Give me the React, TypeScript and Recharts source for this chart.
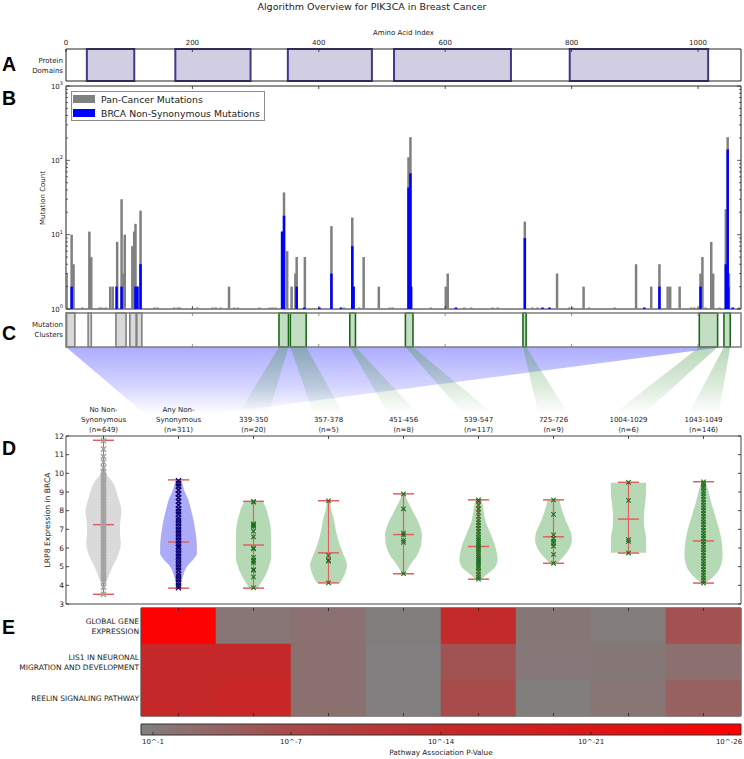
import {
  ComposedChart, BarChart, Bar, Area, Scatter, XAxis, YAxis,
  ReferenceArea, ReferenceLine, Legend, Cell,
} from 'recharts'

const W = 744
const H = 759
const FONT = "'DejaVu Sans', 'Liberation Sans', sans-serif"
const INK = '#222'

// ── Panels A–C: amino-acid coordinates ─────────────────────────────────────
const AA_LENGTH = 1068
const AA_TICKS = [0, 200, 400, 600, 800, 1000]
const AA_INNER_TICKS = [200, 400, 600, 800, 1000]

const DOMAIN_START = [33, 173, 351, 519, 797]
const DOMAIN_END = [108, 292, 484, 704, 1016]

const SERIES_NAMES = ['Pan-Cancer Mutations', 'BRCA Non-Synonymous Mutations']
// [amino acid, mutation count]
const PAN_MUTATIONS: [number, number][] = [
  [1, 3], [9, 10], [12, 4], [26, 1], [37, 11], [40, 5], [53, 1], [57, 1], [63, 1], [70, 2], [74, 2],
  [81, 8], [88, 30], [91, 3], [93, 10], [105, 7], [108, 11], [110, 14], [113, 2], [118, 21],
  [140, 1], [145, 1], [171, 1], [177, 1], [180, 1], [208, 1], [232, 1], [237, 1], [245, 1], [258, 2],
  [266, 1], [272, 1], [306, 1], [322, 1], [327, 1], [332, 1], [342, 11], [345, 37], [350, 6], [357, 2],
  [363, 3], [365, 5], [378, 5], [420, 13], [440, 1], [453, 17], [455, 2], [464, 1], [471, 5], [495, 2],
  [512, 1], [517, 1], [542, 110], [545, 205], [546, 2], [577, 1], [601, 2], [604, 3], [630, 1], [641, 1],
  [675, 1], [683, 1], [726, 15], [738, 1], [746, 1], [777, 3], [796, 1], [802, 1], [819, 2], [828, 1],
  [868, 1], [902, 4], [926, 2], [939, 4], [952, 2], [956, 2], [971, 2], [989, 1], [994, 1], [1004, 3],
  [1007, 5], [1012, 1], [1021, 8], [1024, 3], [1034, 1], [1044, 22], [1047, 205], [1049, 3], [1065, 1],
]
const BRCA_MUTATIONS: [number, number][] = [
  [9, 2], [80, 2], [88, 2], [110, 2], [113, 2], [118, 4], [342, 11], [345, 18], [365, 2], [377, 1],
  [401, 1], [420, 3], [435, 1], [453, 7], [455, 2], [542, 43], [545, 67], [546, 2], [617, 1], [726, 9],
  [754, 1], [765, 1], [915, 1], [939, 2], [1004, 2], [1044, 4], [1047, 140], [1048, 2], [1055, 1],
]
const LOG_TICKS = [1, 2, 3, 4, 5, 6, 7, 8, 9, 10, 20, 30, 40, 50, 60, 70, 80, 90, 100, 200, 300, 400, 500, 600, 700, 800, 900, 1000]

const GRAY_CLUSTERS = [[1, 14], [35, 40], [79, 95], [101, 111], [112, 120]]
const GREEN_CLUSTERS = [[339, 350], [357, 378], [451, 456], [539, 547], [725, 726], [1004, 1029], [1043, 1049]]
const ANY_NONSYN_SPAN = [0, 1040]

// ── Panel D: expression violins ────────────────────────────────────────────
const GROUP_LABELS = [
  ['No Non-', 'Synonymous', '(n=649)'],
  ['Any Non-', 'Synonymous', '(n=311)'],
  ['339-350', '(n=20)'],
  ['357-378', '(n=5)'],
  ['451-456', '(n=8)'],
  ['539-547', '(n=117)'],
  ['725-726', '(n=9)'],
  ['1004-1029', '(n=6)'],
  ['1043-1049', '(n=146)'],
]
const EXPR_TICKS = [3, 4, 5, 6, 7, 8, 9, 10, 11, 12]

// [expression level, half width of the violin in slot units]
const VIOLIN_DENSITY: [number, number][][] = [
  [[10.5, 0], [10.2, 0.02], [9.9, 0.05], [9.6, 0.11], [9.2, 0.16], [8.8, 0.19], [8.4, 0.22], [8.0, 0.24], [7.6, 0.23], [7.2, 0.22], [6.8, 0.22], [6.3, 0.23], [5.8, 0.21], [5.4, 0.17], [5.0, 0.12], [4.6, 0.08], [4.2, 0.04], [3.8, 0.015], [3.5, 0.005]],
  [[9.68, 0.02], [9.5, 0.045], [9.1, 0.075], [8.6, 0.13], [8.0, 0.17], [7.5, 0.2], [7.0, 0.22], [6.6, 0.235], [6.1, 0.245], [5.7, 0.245], [5.4, 0.2], [5.0, 0.11], [4.5, 0.06], [4.05, 0.025], [3.85, 0.015]],
  [[8.5, 0.12], [8.2, 0.16], [7.8, 0.19], [7.2, 0.225], [6.5, 0.235], [5.5, 0.235], [5.0, 0.205], [4.5, 0.155], [4.1, 0.095], [3.85, 0.055]],
  [[8.55, 0.02], [8.0, 0.04], [7.5, 0.075], [7.0, 0.095], [6.5, 0.125], [6.0, 0.165], [5.5, 0.215], [5.1, 0.245], [4.7, 0.225], [4.4, 0.195], [4.15, 0.16]],
  [[8.9, 0.02], [8.5, 0.055], [8.2, 0.095], [7.8, 0.145], [7.5, 0.185], [7.1, 0.225], [6.7, 0.245], [6.3, 0.24], [5.9, 0.215], [5.5, 0.165], [5.2, 0.105], [4.9, 0.06], [4.62, 0.02]],
  [[8.6, 0.04], [8.2, 0.06], [7.8, 0.075], [7.4, 0.095], [7.0, 0.135], [6.6, 0.175], [6.2, 0.215], [5.8, 0.24], [5.4, 0.255], [5.0, 0.225], [4.7, 0.145], [4.35, 0.04]],
  [[8.6, 0.08], [8.3, 0.095], [7.9, 0.125], [7.5, 0.16], [7.1, 0.205], [6.7, 0.24], [6.4, 0.245], [6.1, 0.225], [5.8, 0.185], [5.5, 0.125], [5.2, 0.055]],
  [[9.5, 0.235], [9.0, 0.235], [8.5, 0.225], [8.0, 0.21], [7.5, 0.205], [7.0, 0.215], [6.5, 0.235], [6.0, 0.235], [5.75, 0.235]],
  [[9.55, 0.025], [9.2, 0.055], [8.8, 0.08], [8.4, 0.105], [8.0, 0.135], [7.6, 0.165], [7.2, 0.195], [6.8, 0.22], [6.4, 0.24], [6.0, 0.25], [5.6, 0.255], [5.2, 0.24], [4.8, 0.2], [4.5, 0.14], [4.15, 0.04]],
]
const VIOLIN_MIN = [3.52, 3.85, 3.85, 4.13, 4.62, 4.33, 5.18, 5.73, 4.12]
const VIOLIN_MAX = [11.77, 9.65, 8.5, 8.53, 8.9, 8.58, 8.58, 9.52, 9.55]
const VIOLIN_MEDIAN = [7.25, 6.32, 6.16, 5.74, 6.72, 6.08, 6.6, 7.55, 6.38]
const VIOLIN_POINTS = [
  [3.52, 3.9, 4.2, 4.35, 4.5, 4.65, 4.8, 4.95, 5.1, 5.25, 5.4, 5.55, 5.7, 5.85, 6.0, 6.15, 6.3, 6.45, 6.6, 6.75, 6.9, 7.05, 7.2, 7.35, 7.5, 7.65, 7.8, 7.95, 8.1, 8.25, 8.4, 8.55, 8.7, 8.85, 9.0, 9.15, 9.3, 9.45, 9.6, 9.75, 9.9, 10.05, 10.3, 10.6, 10.9, 11.3, 11.75],
  [3.87, 4.0, 4.15, 4.3, 4.45, 4.6, 4.8, 4.95, 5.1, 5.25, 5.4, 5.55, 5.7, 5.85, 6.0, 6.1, 6.25, 6.4, 6.55, 6.7, 6.85, 7.0, 7.15, 7.3, 7.45, 7.6, 7.8, 7.95, 8.1, 8.3, 8.5, 8.7, 8.9, 9.1, 9.3, 9.45, 9.6],
  [8.5, 8.45, 7.3, 7.25, 7.2, 7.15, 6.9, 6.6, 6.0, 5.95, 5.5, 5.35, 5.3, 5.2, 4.85, 4.8, 4.45, 3.87],
  [8.53, 5.6, 5.35, 5.3, 4.13],
  [8.9, 8.1, 6.8, 6.7, 6.4, 6.3, 4.62],
  [8.58, 8.5, 8.3, 8.1, 7.9, 7.7, 7.5, 7.35, 7.2, 7.05, 6.9, 6.75, 6.6, 6.5, 6.4, 6.3, 6.2, 6.1, 6.0, 5.9, 5.8, 5.7, 5.6, 5.5, 5.4, 5.3, 5.2, 5.1, 5.0, 4.9, 4.75, 4.6, 4.45, 4.33],
  [8.58, 7.8, 6.7, 6.5, 6.35, 6.25, 6.1, 5.65, 5.18],
  [9.52, 8.55, 6.45, 6.35, 5.73],
  [9.55, 9.45, 9.3, 9.2, 9.05, 8.9, 8.75, 8.6, 8.45, 8.3, 8.15, 8.0, 7.85, 7.7, 7.55, 7.4, 7.25, 7.1, 6.95, 6.8, 6.65, 6.5, 6.35, 6.2, 6.05, 5.9, 5.75, 5.6, 5.45, 5.3, 5.15, 5.0, 4.85, 4.7, 4.55, 4.4, 4.25, 4.12],
]

// ── Panel E: pathway association heatmap ───────────────────────────────────
const PATHWAYS = [['GLOBAL GENE', 'EXPRESSION'], ['LIS1 IN NEURONAL', 'MIGRATION AND DEVELOPMENT'], ['REELIN SIGNALING PATHWAY']]
// -log10(p) per pathway, columns = Any Non-Synonymous … 1043-1049
const PATHWAY_NEG_LOG_P = [
  [26, 1.7, 2.2, 0.8, 13.5, 1.5, 1.0, 6.0],
  [14, 14, 2.3, 0.6, 5.8, 1.4, 1.5, 2.4],
  [14, 14.5, 2.3, 0.6, 6.7, 0.7, 1.7, 4.1],
]
const P_EXP_MIN = 0.5
const P_EXP_MAX = 26.5
const CBAR_TICK_POS = [0.02, 0.25, 0.5, 0.75, 0.98]
const CBAR_TICK_LABELS = ['10^-1', '10^-7', '10^-14', '10^-21', '10^-26']
const CMAP_STOPS = [0, 0.25, 0.5, 0.75, 1]
const CMAP_COLORS = ['#808080', '#a94848', '#c32a2a', '#dc1616', '#ff0000']

// ── helpers ────────────────────────────────────────────────────────────────
const hexToRgb = (h: string) => {
  const n = parseInt(h.slice(1), 16)
  return [(n >> 16) & 255, (n >> 8) & 255, n & 255]
}
function colorAt(t: number) {
  const c = Math.min(1, Math.max(0, t))
  let i = 0
  while (i < CMAP_STOPS.length - 2 && c > CMAP_STOPS[i + 1]) i++
  const f = (c - CMAP_STOPS[i]) / (CMAP_STOPS[i + 1] - CMAP_STOPS[i])
  const a = hexToRgb(CMAP_COLORS[i])
  const b = hexToRgb(CMAP_COLORS[i + 1])
  return `rgb(${a.map((v, k) => Math.round(v + (b[k] - v) * f)).join(',')})`
}
const expToT = (e: number) => (e - P_EXP_MIN) / (P_EXP_MAX - P_EXP_MIN)
const slotToAa = (s: number) => ((s - 0.5) / GROUP_LABELS.length) * AA_LENGTH

const mutPositions = Array.from(new Set([...PAN_MUTATIONS.map(m => m[0]), ...BRCA_MUTATIONS.map(m => m[0])])).sort((a, b) => a - b)
const mutRows = mutPositions.map(aa => ({
  aa,
  pan: PAN_MUTATIONS.find(m => m[0] === aa)?.[1],
  brca: BRCA_MUTATIONS.find(m => m[0] === aa)?.[1],
}))
const domainRows = DOMAIN_START.map((s, i) => ({ start: s, end: DOMAIN_END[i] }))
const clusterRows = [...GRAY_CLUSTERS, ...GREEN_CLUSTERS].map(c => ({ start: c[0], end: c[1] }))

const funnels = [
  { top: ANY_NONSYN_SPAN, slot: 2, half: 0.45, fill: 'url(#fadeBlue)' },
  ...GREEN_CLUSTERS.map((c, k) => ({ top: [c[0] - 2, c[1] + 2], slot: 3 + k, half: 0.2, fill: 'url(#fadeGreen)' })),
]
const funnelRows = funnels.flatMap((f, i) => [
  { t: 0, [`f${i}`]: f.top },
  { t: 1, [`f${i}`]: [slotToAa(f.slot - f.half), slotToAa(f.slot + f.half)] },
])

const violinRows = VIOLIN_DENSITY.flatMap((shape, i) =>
  shape.map(([v, hw]) => ({ v, [`w${i}`]: [i + 1 - hw, i + 1 + hw] })))
const SLOT_TICKS = GROUP_LABELS.map((_, i) => i + 1)

const VIOLIN_STYLE = GROUP_LABELS.map((_, i) =>
  i === 0 ? { fill: '#dadada', dot: '#a3a3a3', w: 1.5 }
    : i === 1 ? { fill: '#ababf7', dot: '#00007a', w: 1.3 }
      : { fill: '#b5d9b5', dot: '#1f6e1f', w: 1.1 })

const heatRows = PATHWAYS.map((_, r) => ({
  name: `r${r}`,
  ...Object.fromEntries(PATHWAY_NEG_LOG_P[r].map((_, k) => [`c${k}`, 1])),
}))
const HEAT_COLS = PATHWAY_NEG_LOG_P[0].map((_, k) => k)
const HEAT_COL_CENTERS = HEAT_COLS.map(k => k + 0.5)

// ── tick renderers ─────────────────────────────────────────────────────────
const innerTick = (dx: number, dy: number, color = INK) => ({ x, y }: any) => (
  <line x1={x} y1={y} x2={x + dx} y2={y + dy} stroke={color} strokeWidth={0.8} />
)

function AaTopTick({ x, y, payload }: any) {
  return (
    <g>
      <line x1={x} x2={x} y1={y} y2={y + 3} stroke={INK} strokeWidth={0.8} />
      <text x={x} y={y - 4.5} textAnchor="middle" fontFamily={FONT} fontSize={7} fill={INK}>{payload.value}</text>
    </g>
  )
}

function LogTickLeft({ x, y, payload }: any) {
  const lg = Math.log10(payload.value)
  const exp = Math.round(lg)
  const major = Math.abs(lg - exp) < 1e-6
  return (
    <g>
      <line x1={x} x2={x + (major ? 4 : 2)} y1={y} y2={y} stroke={INK} strokeWidth={0.7} />
      {major && (
        <text x={x - 3} y={y + 2.5} textAnchor="end" fontFamily={FONT} fontSize={7} fill={INK}>
          10<tspan dy={-3.5} fontSize={5}>{exp}</tspan>
        </text>
      )}
    </g>
  )
}
function LogTickRight({ x, y, payload }: any) {
  const lg = Math.log10(payload.value)
  const major = Math.abs(lg - Math.round(lg)) < 1e-6
  return <line x1={x} x2={x - (major ? 4 : 2)} y1={y} y2={y} stroke={INK} strokeWidth={0.7} />
}

function GroupTick({ x, y, payload }: any) {
  const lines = GROUP_LABELS[Math.round(payload.value) - 1] ?? []
  return (
    <g>
      <line x1={x} x2={x} y1={y} y2={y + 3} stroke={INK} strokeWidth={0.8} />
      <text textAnchor="middle" fontFamily={FONT} fontSize={7} fill={INK}>
        {lines.map((l, k) => <tspan key={k} x={x} y={y - 4.5 - (lines.length - 1 - k) * 10}>{l}</tspan>)}
      </text>
    </g>
  )
}

function ExprTick({ x, y, payload }: any) {
  return (
    <g>
      <line x1={x} x2={x + 3} y1={y} y2={y} stroke={INK} strokeWidth={0.8} />
      <text x={x - 2} y={y + 2.7} textAnchor="end" fontFamily={FONT} fontSize={7.5} fill={INK}>{payload.value}</text>
    </g>
  )
}

function PathwayTick({ x, y, index }: any) {
  const lines = PATHWAYS[index] ?? []
  return (
    <text textAnchor="end" fontFamily={FONT} fontSize={7.5} fill={INK}>
      {lines.map((l, k) => <tspan key={k} x={x - 2} y={y + 2.5 + (k - (lines.length - 1) / 2) * 10}>{l}</tspan>)}
    </text>
  )
}

function CbarTick({ x, y, index }: any) {
  return (
    <g>
      <line x1={x} x2={x} y1={y} y2={y - 3} stroke={INK} strokeWidth={0.8} />
      <text x={x} y={y + 9} textAnchor="middle" fontFamily={FONT} fontSize={7} fill={INK}>{CBAR_TICK_LABELS[index]}</text>
    </g>
  )
}

const BAR_W = 2.5
const stemShape = (key: 'pan' | 'brca', color: string) => (p: any) => {
  const cx = p.x + p.width / 2
  if (p.payload?.[key] == null || !Number.isFinite(cx) || !Number.isFinite(p.y)) return <g />
  const base = p.y + p.height
  const h = Math.max(p.height, 1.5)
  return <rect x={cx - BAR_W / 2} y={base - h} width={BAR_W} height={h} fill={color} />
}

const xMarker = (color: string, s: number, w: number) => (p: any) => {
  const { cx, cy } = p
  if (!Number.isFinite(cx) || !Number.isFinite(cy)) return <g />
  return (
    <path d={`M${cx - s},${cy - s}L${cx + s},${cy + s}M${cx - s},${cy + s}L${cx + s},${cy - s}`}
      stroke={color} strokeWidth={w} fill="none" />
  )
}

function LegendBox({ payload }: any) {
  const items = [...(payload ?? [])].sort((a: any, b: any) => SERIES_NAMES.indexOf(a.value) - SERIES_NAMES.indexOf(b.value))
  return (
    <div style={{ boxSizing: 'border-box', width: 194, height: 30, border: '1px solid #8c8c8c', background: '#fff', padding: '0 0 0 1px', fontFamily: FONT, fontSize: 9.3, color: INK }}>
      {items.map((p: any) => (
        <div key={p.value} style={{ display: 'flex', alignItems: 'center', height: 14 }}>
          <span style={{ display: 'inline-block', width: 22, height: 8, background: p.color, marginRight: 6 }} />
          <span style={{ whiteSpace: 'nowrap' }}>{p.value}</span>
        </div>
      ))}
    </div>
  )
}

const axisBase = { tickSize: 0, tickMargin: 0, tickLine: false, axisLine: false, interval: 0 as const }
const layer = { position: 'absolute' as const, left: 0, top: 0 }

// ── panels ─────────────────────────────────────────────────────────────────
function DomainPanel() {
  return (
    <ComposedChart width={W} height={H} data={domainRows} margin={{ top: 48, right: 3, bottom: H - 81, left: 66 }}>
      <XAxis type="number" dataKey="start" domain={[0, AA_LENGTH]} allowDataOverflow orientation="top" height={1} ticks={AA_TICKS} tick={AaTopTick} {...axisBase} />
      <YAxis hide width={0} type="number" domain={[0, 1]} allowDataOverflow />
      {domainRows.map((d, i) => (
        <ReferenceArea key={i} x1={d.start} x2={d.end} y1={0} y2={1} fill="#d1cee3" fillOpacity={1} stroke="#3d3b88" strokeWidth={2} />
      ))}
      <ReferenceArea x1={0} x2={AA_LENGTH} y1={0} y2={1} fill="none" stroke={INK} strokeWidth={1} />
    </ComposedChart>
  )
}

function MutationPanel() {
  return (
    <ComposedChart width={W} height={H} data={mutRows} margin={{ top: 85, right: 2, bottom: H - 309 - 1, left: 65 }}>
      <XAxis xAxisId="pan" orientation="bottom" type="number" dataKey="aa" domain={[0, AA_LENGTH]} allowDataOverflow height={1} ticks={AA_INNER_TICKS} tick={innerTick(0, -3)} {...axisBase} />
      <XAxis xAxisId="brca" orientation="top" type="number" dataKey="aa" domain={[0, AA_LENGTH]} allowDataOverflow height={1} ticks={AA_INNER_TICKS} tick={innerTick(0, 3)} {...axisBase} />
      <YAxis yAxisId="left" type="number" scale="log" domain={[1, 1000]} allowDataOverflow ticks={LOG_TICKS} width={1} tick={LogTickLeft} {...axisBase} />
      <YAxis yAxisId="right" orientation="right" type="number" scale="log" domain={[1, 1000]} allowDataOverflow ticks={LOG_TICKS} width={1} tick={LogTickRight} {...axisBase} />
      <Bar xAxisId="pan" yAxisId="left" dataKey="pan" name={SERIES_NAMES[0]} fill="#808080" barSize={BAR_W} shape={stemShape('pan', '#808080')} isAnimationActive={false} />
      <Bar xAxisId="brca" yAxisId="left" dataKey="brca" name={SERIES_NAMES[1]} fill="#0000ff" barSize={BAR_W} shape={stemShape('brca', '#0000ff')} isAnimationActive={false} />
      <ReferenceArea xAxisId="pan" yAxisId="left" x1={0} x2={AA_LENGTH} y1={1} y2={1000} fill="none" stroke={INK} strokeWidth={1} />
      <Legend layout="horizontal" verticalAlign="middle" align="center" wrapperStyle={{ left: 71, top: 91, width: 194, height: 30 }} content={LegendBox} />
    </ComposedChart>
  )
}

function ClusterPanel() {
  return (
    <ComposedChart width={W} height={H} data={clusterRows} margin={{ top: 312, right: 3, bottom: H - 347 - 1, left: 66 }}>
      <XAxis xAxisId="top" orientation="top" type="number" dataKey="start" domain={[0, AA_LENGTH]} allowDataOverflow height={1} ticks={AA_INNER_TICKS} tick={innerTick(0, 3, '#777')} {...axisBase} />
      <XAxis xAxisId="bottom" orientation="bottom" type="number" dataKey="start" domain={[0, AA_LENGTH]} allowDataOverflow height={1} ticks={AA_INNER_TICKS} tick={innerTick(0, -3, '#777')} {...axisBase} />
      <YAxis hide width={0} type="number" domain={[0, 1]} allowDataOverflow />
      {GRAY_CLUSTERS.map((c, i) => (
        <ReferenceArea key={`g${i}`} xAxisId="top" x1={c[0]} x2={c[1]} y1={0} y2={1} fill="#d9d9d9" fillOpacity={1} stroke="#808080" strokeWidth={1.6} />
      ))}
      {GREEN_CLUSTERS.map((c, i) => (
        <ReferenceArea key={`c${i}`} xAxisId="top" x1={c[0] - 2} x2={c[1] + 2} y1={0} y2={1} fill="#c4dec4" fillOpacity={1} stroke="#1c6b1c" strokeWidth={1.6} />
      ))}
      <ReferenceArea xAxisId="top" x1={0} x2={AA_LENGTH} y1={0} y2={1} fill="none" stroke="#7f7f7f" strokeWidth={1.5} />
    </ComposedChart>
  )
}

function FunnelPanel() {
  return (
    <ComposedChart layout="vertical" width={W} height={H} data={funnelRows} margin={{ top: 347, right: 3, bottom: H - 414, left: 66 }}>
      <defs>
        <linearGradient id="fadeBlue" x1="0" y1="0" x2="0" y2="1">
          <stop offset="0" stopColor="#5a5aff" stopOpacity={0.5} />
          <stop offset="0.6" stopColor="#5a5aff" stopOpacity={0.25} />
          <stop offset="1" stopColor="#5a5aff" stopOpacity={0} />
        </linearGradient>
        <linearGradient id="fadeGreen" x1="0" y1="0" x2="0" y2="1">
          <stop offset="0" stopColor="#5aa05a" stopOpacity={0.42} />
          <stop offset="0.6" stopColor="#5aa05a" stopOpacity={0.2} />
          <stop offset="1" stopColor="#5aa05a" stopOpacity={0} />
        </linearGradient>
      </defs>
      <XAxis type="number" domain={[0, AA_LENGTH]} allowDataOverflow hide height={0} />
      <YAxis type="number" dataKey="t" domain={[0, 1]} allowDataOverflow hide width={0} />
      {funnels.map((f, i) => (
        <Area key={i} dataKey={`f${i}`} type="linear" stroke="none" fill={f.fill} fillOpacity={1} dot={false} activeDot={false} isAnimationActive={false} />
      ))}
    </ComposedChart>
  )
}

const CAP = 0.14
const WHISKER = '#e06060'

function ViolinPanel() {
  return (
    <ComposedChart layout="vertical" width={W} height={H} data={violinRows} margin={{ top: 435, right: 2, bottom: H - 604, left: 65 }}>
      <XAxis type="number" dataKey="p" domain={[0.5, 9.5]} allowDataOverflow orientation="top" height={1} ticks={SLOT_TICKS} tick={GroupTick} {...axisBase} />
      <YAxis type="number" dataKey="v" domain={[3, 12]} reversed allowDataOverflow ticks={EXPR_TICKS} width={1} tick={ExprTick} {...axisBase} />
      <YAxis yAxisId="right" orientation="right" type="number" dataKey="v" domain={[3, 12]} reversed allowDataOverflow ticks={EXPR_TICKS} width={1} tick={innerTick(-3, 0)} {...axisBase} />
      {VIOLIN_DENSITY.map((_, i) => (
        <Area key={`a${i}`} dataKey={`w${i}`} type="monotone" fill={VIOLIN_STYLE[i].fill} fillOpacity={1} stroke="none" dot={false} activeDot={false} isAnimationActive={false} />
      ))}
      {VIOLIN_MAX.map((mx, i) => (
        <ReferenceLine key={`s${i}`} segment={[{ x: i + 1, y: VIOLIN_MIN[i] }, { x: i + 1, y: mx }]} stroke={WHISKER} strokeWidth={1.2} ifOverflow="visible" />
      ))}
      {VIOLIN_MAX.flatMap((mx, i) => [VIOLIN_MIN[i], mx, VIOLIN_MEDIAN[i]].map((val, k) => (
        <ReferenceLine key={`c${i}-${k}`} segment={[{ x: i + 1 - CAP, y: val }, { x: i + 1 + CAP, y: val }]} stroke={WHISKER} strokeWidth={1.5} ifOverflow="visible" />
      )))}
      <ReferenceArea x1={0.5} x2={9.5} y1={3} y2={12} fill="none" stroke="#444" strokeWidth={1} />
    </ComposedChart>
  )
}

// sample points sit on top of the whiskers, so they get their own layer
function ViolinPointsPanel() {
  return (
    <ComposedChart width={W} height={H} margin={{ top: 436, right: 3, bottom: H - 604, left: 66 }}>
      <XAxis type="number" dataKey="p" domain={[0.5, 9.5]} allowDataOverflow hide height={0} />
      <YAxis type="number" dataKey="v" domain={[3, 12]} allowDataOverflow hide width={0} />
      {VIOLIN_POINTS.map((pts, i) => (
        <Scatter key={`p${i}`} data={pts.map(v => ({ p: i + 1, v }))} shape={xMarker(VIOLIN_STYLE[i].dot, i < 2 ? 2.6 : 2.2, VIOLIN_STYLE[i].w)} isAnimationActive={false} />
      ))}
    </ComposedChart>
  )
}

function HeatPanel() {
  return (
    <BarChart layout="vertical" width={W} height={H} data={heatRows} barCategoryGap={0} margin={{ top: 607, right: 3, bottom: H - 716 - 1, left: 140 }}>
      <XAxis orientation="bottom" type="number" dataKey="c0" domain={[0, HEAT_COLS.length]} allowDataOverflow height={1} ticks={HEAT_COL_CENTERS} tick={innerTick(0, -3)} {...axisBase} />
      <XAxis xAxisId="top" orientation="top" type="number" dataKey="c0" domain={[0, HEAT_COLS.length]} allowDataOverflow height={1} ticks={HEAT_COL_CENTERS} tick={innerTick(0, 3)} {...axisBase} />
      <YAxis type="category" dataKey="name" width={1} tick={PathwayTick} {...axisBase} />
      {HEAT_COLS.map(k => (
        <Bar key={k} dataKey={`c${k}`} stackId="heat" isAnimationActive={false}>
          {heatRows.map((_, r) => {
            const c = colorAt(expToT(PATHWAY_NEG_LOG_P[r][k]))
            return <Cell key={r} fill={c} stroke={c} strokeWidth={0.5} />
          })}
        </Bar>
      ))}
      <ReferenceArea x1={0} x2={HEAT_COLS.length} y1={heatRows[0].name} y2={heatRows[heatRows.length - 1].name} fill="none" stroke={INK} strokeWidth={1} />
    </BarChart>
  )
}

function ColorbarPanel() {
  return (
    <ComposedChart width={W} height={H} data={CBAR_TICK_POS.map(x => ({ x }))} margin={{ top: 724, right: 3, bottom: H - 735 - 1, left: 141 }}>
      <defs>
        <linearGradient id="pvalGrad" x1="0" y1="0" x2="1" y2="0">
          {CMAP_STOPS.map((s, i) => <stop key={i} offset={s} stopColor={CMAP_COLORS[i]} />)}
        </linearGradient>
      </defs>
      <XAxis type="number" dataKey="x" domain={[0, 1]} allowDataOverflow height={1} ticks={CBAR_TICK_POS} tick={CbarTick} {...axisBase} />
      <YAxis hide width={0} type="number" domain={[0, 1]} allowDataOverflow />
      <ReferenceArea x1={0} x2={1} y1={0} y2={1} fill="url(#pvalGrad)" fillOpacity={1} stroke="#333" strokeWidth={1} />
    </ComposedChart>
  )
}

function Annotations() {
  const small = { fontFamily: FONT, fontSize: 7, fill: INK }
  const letter = { fontFamily: "'Liberation Sans', Arial, sans-serif", fontWeight: 700, fontSize: 19.5, fill: '#000' }
  return (
    <svg width={W} height={H} style={{ ...layer, pointerEvents: 'none' }}>
      <text x={372} y={9.5} textAnchor="middle" fontFamily={FONT} fontSize={9.5} fill={INK}>Algorithm Overview for PIK3CA in Breast Cancer</text>
      <text x={403.5} y={34.5} textAnchor="middle" {...small}>Amino Acid Index</text>
      <text x={63} y={63} textAnchor="end" {...small}>Protein</text>
      <text x={63} y={72.5} textAnchor="end" {...small}>Domains</text>
      <text x={63} y={327} textAnchor="end" {...small}>Mutation</text>
      <text x={63} y={337} textAnchor="end" {...small}>Clusters</text>
      <text transform="translate(45,198) rotate(-90)" textAnchor="middle" {...small}>Mutation Count</text>
      <text transform="translate(50,520) rotate(-90)" textAnchor="middle" {...small} fontSize={7.6}>LRP8 Expression in BRCA</text>
      <text x={441} y={755} textAnchor="middle" {...small} fontSize={7.3}>Pathway Association P-Value</text>
      <text x={2} y={70.7} {...letter}>A</text>
      <text x={2} y={104.5} {...letter}>B</text>
      <text x={2} y={339.5} {...letter}>C</text>
      <text x={2} y={455} {...letter}>D</text>
      <text x={2} y={633.5} {...letter}>E</text>
    </svg>
  )
}

export default function App() {
  return (
    <div style={{ ...layer, width: W, height: H, background: '#fff', fontFamily: FONT, overflow: 'hidden' }}>
      <div style={layer}><FunnelPanel /></div>
      <div style={layer}><DomainPanel /></div>
      <div style={layer}><MutationPanel /></div>
      <div style={layer}><ClusterPanel /></div>
      <div style={layer}><ViolinPanel /></div>
      <div style={layer}><ViolinPointsPanel /></div>
      <div style={layer}><HeatPanel /></div>
      <div style={layer}><ColorbarPanel /></div>
      <Annotations />
    </div>
  )
}
